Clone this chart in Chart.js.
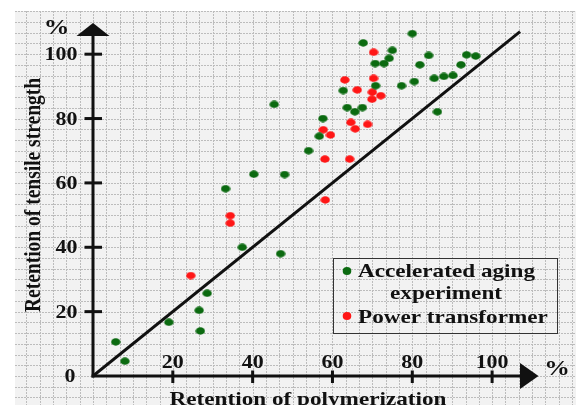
<!DOCTYPE html>
<html>
<head>
<meta charset="utf-8">
<script src="https://cdn.jsdelivr.net/npm/chart.js@4.4.0/dist/chart.umd.min.js"></script>
<style>
  html, body { margin: 0; padding: 0; background: #fff; }
</style>
</head>
<body>
<canvas id="chart" width="576" height="405"></canvas>
<script>
// axis ticks
const X_TICKS = [20, 40, 60, 80, 100];
const Y_TICKS = [20, 40, 60, 80, 100];
const X_MAX = 112;
const Y_MAX = 110;

// Accelerated aging experiment
const agingX = [5.7, 8.0, 19.0, 26.6, 28.6, 26.9, 33.2, 37.4, 40.3, 45.4, 47.0, 48.0, 54.0, 56.7, 57.6, 62.7, 63.7, 65.6, 67.5, 67.7, 70.7, 70.8, 72.9, 74.2, 75.0, 77.3, 80.0, 80.5, 81.9, 84.1, 85.5, 86.3, 87.9, 90.2, 92.2, 93.6, 95.9];
const agingY = [10.6, 4.6, 16.7, 20.4, 25.7, 14.0, 58.2, 40.0, 62.7, 84.4, 38.0, 62.6, 70.0, 74.5, 80.0, 88.7, 83.4, 82.1, 83.4, 103.5, 97.1, 90.2, 97.1, 98.7, 101.2, 90.2, 106.4, 91.5, 96.7, 99.6, 92.5, 82.1, 93.1, 93.4, 96.7, 99.8, 99.4];

// Power transformer
const transformerX = [24.5, 34.4, 34.4, 57.7, 58.1, 58.2, 59.5, 63.1, 64.3, 64.6, 65.7, 66.2, 68.8, 69.9, 70.0, 70.3, 70.3, 72.1];
const transformerY = [31.2, 49.8, 47.5, 76.5, 67.4, 54.7, 74.9, 92.0, 67.4, 78.8, 76.8, 88.9, 78.2, 86.0, 88.2, 92.5, 100.6, 87.1];

// y = x reference line
const lineX = [0, 107];
const lineY = [0, 107];

const GREEN = "#0b6a10";
const RED = "#ff1616";
const INK = "#111";
const SX = 1.22; // the picture is a bit wider than tall
const FONT = '"Liberation Serif", "Times New Roman", serif';

function pts(xs, ys) {
    return xs.map((v, i) => ({ x: v, y: ys[i] }));
}

// small ellipse used as point style
function dot(color, w, h) {
    let c = document.createElement("canvas");
    c.width = w;
    c.height = h;
    let g = c.getContext("2d");
    g.fillStyle = color;
    g.beginPath();
    g.ellipse(w / 2, h / 2, w / 2 - 0.3, h / 2 - 0.3, 0, 0, Math.PI * 2);
    g.fill();
    return c;
}

function text(ctx, str, x, y, size, align, rot) {
    ctx.save();
    ctx.translate(x, y);
    ctx.scale(SX, 1);
    if (rot) ctx.rotate(rot);
    ctx.font = "bold " + size + "px " + FONT;
    ctx.textAlign = align;
    ctx.textBaseline = "alphabetic";
    ctx.fillStyle = INK;
    ctx.fillText(str, 0, 0);
    ctx.restore();
}

function seg(ctx, x1, y1, x2, y2) {
    ctx.beginPath();
    ctx.moveTo(x1, y1);
    ctx.lineTo(x2, y2);
    ctx.stroke();
}

const decor = {
    id: "decor",
    beforeDraw(chart) {
        let ctx = chart.ctx;
        let x = chart.scales.x, y = chart.scales.y;
        ctx.save();
        ctx.fillStyle = "#fff";
        ctx.fillRect(0, 0, 576, 405);
        ctx.fillStyle = "#f2f2f2";
        ctx.fillRect(15, 11, 561, 394);
        ctx.strokeStyle = "#bcbcbc";
        ctx.lineWidth = 1;
        ctx.setLineDash([2, 1]);
        let step = 10 / 3;
        for (let k = -8; k <= 40; k++) {
            let px = Math.round(x.getPixelForValue(k * step)) + 0.5;
            if (px > 15 && px < 576) seg(ctx, px, 11, px, 405);
            let py = Math.round(y.getPixelForValue(k * step)) + 0.5;
            if (py > 11 && py < 405) seg(ctx, 15, py, 576, py);
        }
        ctx.restore();
    },
    afterDatasetsDraw(chart) {
        let ctx = chart.ctx;
        let x = chart.scales.x, y = chart.scales.y;
        let ox = x.getPixelForValue(0), oy = y.getPixelForValue(0);
        ctx.save();
        ctx.strokeStyle = INK;
        ctx.fillStyle = INK;
        ctx.lineWidth = 3;
        ctx.lineCap = "butt";

        // axes
        seg(ctx, ox - 1.5, oy, 524, oy);
        seg(ctx, ox, oy + 1.5, ox, 34);

        // arrow heads
        ctx.beginPath();
        ctx.moveTo(538.5, oy);
        ctx.lineTo(520, oy - 13);
        ctx.lineTo(520, oy + 13);
        ctx.closePath();
        ctx.fill();
        ctx.beginPath();
        ctx.moveTo(ox, 23);
        ctx.lineTo(ox - 16.5, 36);
        ctx.lineTo(ox + 16.5, 36);
        ctx.closePath();
        ctx.fill();

        // ticks and labels
        X_TICKS.forEach(v => {
            let px = x.getPixelForValue(v);
            seg(ctx, px, oy - 5.5, px, oy + 7);
            text(ctx, String(v), px, 367.5, 18, "center");
        });
        Y_TICKS.forEach(v => {
            let py = y.getPixelForValue(v);
            seg(ctx, ox - 8.5, py, ox + 9, py);
            text(ctx, String(v), 77.5, py + 6, 18, "right");
        });
        text(ctx, "0", 75.5, oy + 6, 18, "right");

        // units and titles
        text(ctx, "%", 56.5, 33.5, 21, "center");
        text(ctx, "%", 557, 374.5, 21, "center");
        text(ctx, "Retention of tensile strength", 40, 195, 19.5, "center", -Math.PI / 2);
        text(ctx, "Retention of polymerization", 308, 404.5, 19, "center");

        // legend
        ctx.lineWidth = 1;
        ctx.strokeStyle = "#333";
        ctx.strokeRect(333.5, 258.5, 224, 75);
        let d = chart.data.datasets;
        ctx.fillStyle = d[0].backgroundColor;
        ctx.beginPath();
        ctx.ellipse(347, 271, 4.3, 3.9, 0, 0, Math.PI * 2);
        ctx.fill();
        ctx.fillStyle = d[1].backgroundColor;
        ctx.beginPath();
        ctx.ellipse(347, 316, 4.3, 3.9, 0, 0, Math.PI * 2);
        ctx.fill();
        text(ctx, "Accelerated aging", 358, 277, 19, "left");
        text(ctx, "experiment", 446, 298.5, 19, "center");
        text(ctx, "Power transformer", 358, 322.5, 19, "left");
        ctx.restore();
    }
};

new Chart(document.getElementById("chart"), {
    type: "scatter",
    data: {
        datasets: [
            {
                label: "Accelerated aging experiment",
                data: pts(agingX, agingY),
                backgroundColor: GREEN,
                pointStyle: dot(GREEN, 10, 8),
                pointRadius: 5
            },
            {
                label: "Power transformer",
                data: pts(transformerX, transformerY),
                backgroundColor: RED,
                pointStyle: dot(RED, 10, 8),
                pointRadius: 5
            },
            {
                type: "line",
                label: "y = x",
                data: pts(lineX, lineY),
                borderColor: INK,
                borderWidth: 3,
                pointRadius: 0,
                fill: false
            }
        ]
    },
    options: {
        responsive: false,
        animation: false,
        events: [],
        layout: { padding: { left: 93, right: 36, top: 22, bottom: 29 } },
        scales: {
            x: { type: "linear", min: 0, max: X_MAX, display: false },
            y: { type: "linear", min: 0, max: Y_MAX, display: false }
        },
        plugins: {
            legend: { display: false },
            tooltip: { enabled: false }
        }
    },
    plugins: [decor]
});
</script>
</body>
</html>
